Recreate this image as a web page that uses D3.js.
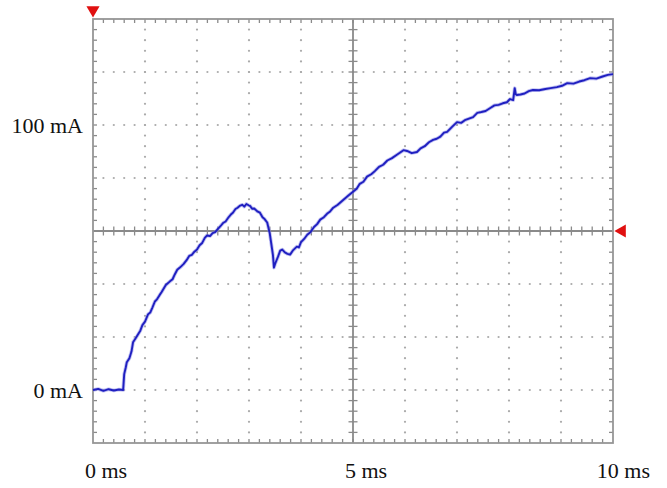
<!DOCTYPE html>
<html>
<head>
<meta charset="utf-8">
<script src="https://cdn.jsdelivr.net/npm/d3@7"></script>
<style>
  body { margin: 0; background: #fff; }
  svg text { font-family: "Liberation Serif", "Times New Roman", serif; font-size: 22px; fill: #111; }
</style>
</head>
<body>
<script>
// trace: time in ms, current in mA
var timeMs = [0, 0.1, 0.2, 0.3, 0.4, 0.5, 0.58, 0.6, 0.63, 0.65, 0.7, 0.74, 0.77, 0.82, 0.87, 0.91, 0.95, 1.0, 1.06, 1.1, 1.14, 1.19, 1.23, 1.28, 1.32, 1.4, 1.48, 1.53, 1.57, 1.62, 1.67, 1.74, 1.8, 1.85, 1.9, 1.95, 2.0, 2.05, 2.1, 2.15, 2.19, 2.25, 2.3, 2.35, 2.39, 2.45, 2.5, 2.55, 2.6, 2.65, 2.69, 2.74, 2.78, 2.83, 2.87, 2.91, 2.95, 3.0, 3.02, 3.06, 3.1, 3.16, 3.21, 3.26, 3.3, 3.35, 3.4, 3.43, 3.46, 3.48, 3.5, 3.52, 3.56, 3.6, 3.64, 3.69, 3.74, 3.79, 3.85, 3.92, 3.96, 4.0, 4.06, 4.12, 4.18, 4.25, 4.31, 4.37, 4.44, 4.5, 4.56, 4.62, 4.7, 4.8, 4.9, 5.0, 5.07, 5.13, 5.2, 5.27, 5.35, 5.42, 5.5, 5.58, 5.66, 5.75, 5.83, 5.9, 5.97, 6.04, 6.13, 6.23, 6.3, 6.38, 6.46, 6.54, 6.61, 6.68, 6.75, 6.81, 6.9, 7.0, 7.08, 7.15, 7.23, 7.31, 7.39, 7.47, 7.55, 7.64, 7.72, 7.8, 7.88, 7.96, 8.02, 8.08, 8.11, 8.13, 8.15, 8.22, 8.3, 8.38, 8.46, 8.58, 8.7, 8.8, 8.92, 9.02, 9.12, 9.24, 9.35, 9.45, 9.56, 9.68, 9.8, 9.9, 10.0];
var currentMa = [0, 0.4, -0.3, 0.3, -0.2, 0.2, 0, 6, 8.5, 10.5, 12, 14.5, 18, 19.5, 21.1, 22.4, 24.5, 25.8, 28.6, 29.2, 31, 33.4, 34.2, 35.8, 37, 39.6, 41, 41.8, 43.5, 45.4, 46.2, 47.5, 49, 50.6, 51, 52.2, 53, 54.6, 55.5, 57.4, 58.3, 58.1, 59.2, 59.6, 60.5, 61.8, 63, 63.6, 65, 66.2, 66.9, 68.3, 68.8, 69.6, 69.9, 69.2, 70.2, 69.6, 69.5, 68.4, 68.5, 67.4, 66.9, 65.2, 64.5, 63.2, 59, 55, 51, 46.2, 47.5, 48.5, 50.4, 52.6, 53, 51.9, 51.4, 51.1, 52.8, 54.1, 53.8, 55.8, 57, 58.6, 59.5, 61.5, 62.6, 64.3, 65.2, 66.5, 67.4, 68.8, 69.8, 71.5, 73.2, 74.8, 75.9, 77.8, 78.6, 80.5, 81.4, 82.6, 84.2, 85, 86.6, 87.5, 88.6, 89.5, 90.5, 90.2, 89.4, 89.8, 91.2, 92, 93.5, 94.4, 94.8, 95.6, 97.1, 97.4, 99.2, 101.1, 100.8, 101.8, 102.4, 103, 104.6, 104.9, 105.3, 106.4, 107.4, 107.6, 108.2, 108.6, 109.8, 109.4, 113.9, 111.6, 111.3, 111.5, 111.9, 112.8, 113.2, 113.1, 113.6, 113.9, 114.3, 114.8, 115.8, 115.6, 116.4, 116.9, 117.7, 117.5, 118.3, 118.9, 119.2];

var xTickValues = [0, 5, 10];
var xTickLabels = ["0 ms", "5 ms", "10 ms"];
var yTickValues = [0, 100];
var yTickLabels = ["0 mA", "100 mA"];

var width = 667, height = 488;
var pLeft = 93, pRight = 613, pTop = 19, pBottom = 443;

var x = d3.scaleLinear().domain([0, 10]).range([pLeft, pRight]);
var y = d3.scaleLinear().domain([-20, 140]).range([pBottom, pTop]);

var svg = d3.select("body").append("svg")
  .attr("width", width)
  .attr("height", height);

// graticule: 10 x 8 divisions, 5 minor steps each
var divX = d3.range(0, 11).map(function(i) { return x(i) });
var divY = d3.range(0, 9).map(function(i) { return y(140 - i * 20) });
var minorX = d3.range(0, 51).map(function(i) { return x(i / 5) });
var minorY = d3.range(0, 41).map(function(i) { return y(140 - i * 4) });

var grid = svg.append("g").attr("class", "grid");

// dotted division lines
divX.slice(1, 10).forEach(function(gx, i) {
  if (i == 4) return;
  grid.selectAll(null).data(minorY.slice(1, 40)).enter().append("circle")
    .attr("cx", gx).attr("cy", function(d) { return d })
    .attr("r", 1.1).attr("fill", "#aaaaaa");
});
divY.slice(1, 8).forEach(function(gy, i) {
  if (i == 3) return;
  grid.selectAll(null).data(minorX.slice(1, 50)).enter().append("circle")
    .attr("cx", function(d) { return d }).attr("cy", gy)
    .attr("r", 1.1).attr("fill", "#aaaaaa");
});

var cx = divX[5], cy = divY[4];
var tickColor = "#8a8a8a";

// center cross with ticks
grid.append("line").attr("x1", pLeft).attr("x2", pRight).attr("y1", cy).attr("y2", cy)
  .attr("stroke", tickColor).attr("stroke-width", 1.8);
grid.append("line").attr("x1", cx).attr("x2", cx).attr("y1", pTop).attr("y2", pBottom)
  .attr("stroke", tickColor).attr("stroke-width", 1.8);
grid.selectAll(null).data(minorX.slice(1, 50)).enter().append("line")
  .attr("x1", function(d) { return d }).attr("x2", function(d) { return d })
  .attr("y1", cy - 4.5).attr("y2", cy + 4.5)
  .attr("stroke", tickColor).attr("stroke-width", 1.3);
grid.selectAll(null).data(minorY.slice(1, 40)).enter().append("line")
  .attr("y1", function(d) { return d }).attr("y2", function(d) { return d })
  .attr("x1", cx - 4.5).attr("x2", cx + 4.5)
  .attr("stroke", tickColor).attr("stroke-width", 1.3);

// border ticks pointing inward
grid.selectAll(null).data(minorX.slice(1, 50)).enter().append("line")
  .attr("x1", function(d) { return d }).attr("x2", function(d) { return d })
  .attr("y1", pTop).attr("y2", pTop + 4)
  .attr("stroke", tickColor).attr("stroke-width", 1.3);
grid.selectAll(null).data(minorX.slice(1, 50)).enter().append("line")
  .attr("x1", function(d) { return d }).attr("x2", function(d) { return d })
  .attr("y1", pBottom).attr("y2", pBottom - 4)
  .attr("stroke", tickColor).attr("stroke-width", 1.3);
grid.selectAll(null).data(minorY.slice(1, 40)).enter().append("line")
  .attr("y1", function(d) { return d }).attr("y2", function(d) { return d })
  .attr("x1", pLeft).attr("x2", pLeft + 4)
  .attr("stroke", tickColor).attr("stroke-width", 1.3);
grid.selectAll(null).data(minorY.slice(1, 40)).enter().append("line")
  .attr("y1", function(d) { return d }).attr("y2", function(d) { return d })
  .attr("x1", pRight).attr("x2", pRight - 4)
  .attr("stroke", tickColor).attr("stroke-width", 1.3);

grid.append("rect")
  .attr("x", pLeft).attr("y", pTop)
  .attr("width", pRight - pLeft).attr("height", pBottom - pTop)
  .attr("fill", "none").attr("stroke", "#969696").attr("stroke-width", 1.8);

// trace
var pts = timeMs.map(function(t, i) { return [t, currentMa[i]] });
var line = d3.line()
  .x(function(d) { return x(d[0]) })
  .y(function(d) { return y(d[1]) });

svg.append("path").datum(pts)
  .attr("d", line)
  .attr("fill", "none")
  .attr("stroke", "#7f7fe6")
  .attr("stroke-width", 3.6)
  .attr("stroke-opacity", 0.5)
  .attr("stroke-linejoin", "round");
svg.append("path").datum(pts)
  .attr("d", line)
  .attr("fill", "none")
  .attr("stroke", "#1f1fc0")
  .attr("stroke-width", 1.9)
  .attr("stroke-linejoin", "round");

// red markers
svg.append("path")
  .attr("d", d3.symbol().type(d3.symbolTriangle).size(75)())
  .attr("transform", "translate(" + x(0) + ",10) rotate(180)")
  .attr("fill", "#e01010");
svg.append("path")
  .attr("d", d3.symbol().type(d3.symbolTriangle).size(75)())
  .attr("transform", "translate(622," + cy + ") rotate(-90)")
  .attr("fill", "#e01010");

// labels
svg.selectAll(".ylab").data(yTickValues).enter().append("text")
  .attr("class", "ylab")
  .attr("x", pLeft - 10)
  .attr("y", function(d) { return y(d) + 8 })
  .attr("text-anchor", "end")
  .text(function(d, i) { return yTickLabels[i] });

svg.selectAll(".xlab").data(xTickValues).enter().append("text")
  .attr("class", "xlab")
  .attr("x", function(d, i) { return i == xTickValues.length - 1 ? x(d) + 37 : x(d) - 8 })
  .attr("y", 478)
  .attr("text-anchor", function(d, i) { return i == xTickValues.length - 1 ? "end" : "start" })
  .text(function(d, i) { return xTickLabels[i] });
</script>
</body>
</html>
